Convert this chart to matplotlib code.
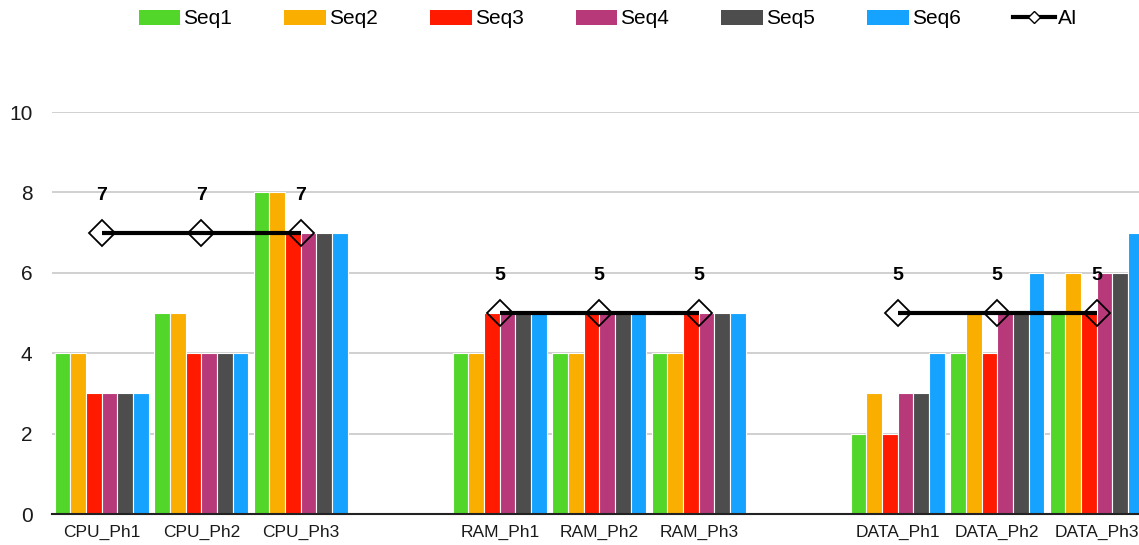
import numpy as np
import matplotlib
matplotlib.use("Agg")
import matplotlib.pyplot as plt
from matplotlib.lines import Line2D
from matplotlib.patches import Patch

# Phase categories; empty strings are spacer slots between resource groups
categories = ["CPU_Ph1", "CPU_Ph2", "CPU_Ph3", "",
              "RAM_Ph1", "RAM_Ph2", "RAM_Ph3", "",
              "DATA_Ph1", "DATA_Ph2", "DATA_Ph3"]

seq1 = [4, 5, 8, None, 4, 4, 4, None, 2, 4, 5]
seq2 = [4, 5, 8, None, 4, 4, 4, None, 3, 5, 6]
seq3 = [3, 4, 7, None, 5, 5, 5, None, 2, 4, 5]
seq4 = [3, 4, 7, None, 5, 5, 5, None, 3, 5, 6]
seq5 = [3, 4, 7, None, 5, 5, 5, None, 3, 5, 6]
seq6 = [3, 4, 7, None, 5, 5, 5, None, 4, 6, 7]
ai = [7, 7, 7, None, 5, 5, 5, None, 5, 5, 5]

series_names = ["Seq1", "Seq2", "Seq3", "Seq4", "Seq5", "Seq6"]
series_values = [seq1, seq2, seq3, seq4, seq5, seq6]
colors = ["#52D62A", "#FAAF00", "#FF1A00", "#B8397A", "#4D4D4D", "#16A3FF"]

plt.rcParams["font.family"] = ["Liberation Sans", "DejaVu Sans"]

fig = plt.figure(figsize=(11.39, 5.45), dpi=100)
ax = fig.add_axes([52 / 1139, 31 / 545, 1094.5 / 1139, 402 / 545])

x = np.arange(len(categories))
group_w = 0.945
bar_w = group_w / len(series_values)

def to_arr(v):
    return np.array([np.nan if e is None else e for e in v], dtype=float)

for i, (name, vals, col) in enumerate(zip(series_names, series_values, colors)):
    offs = -group_w / 2 + bar_w * (i + 0.5)
    ax.bar(x + offs, to_arr(vals), width=bar_w, color=col,
           edgecolor="white", linewidth=0.8, zorder=2)

ai_arr = to_arr(ai)
ax.plot(x, ai_arr, linestyle="none", marker="D", markersize=13.5,
        markerfacecolor="none", markeredgecolor="black",
        markeredgewidth=1.3, zorder=3)
ax.plot(x, ai_arr, color="black", linewidth=3, zorder=4,
        solid_capstyle="butt")

for xi, v in zip(x, ai_arr):
    if not np.isnan(v):
        ax.annotate(f"{int(v)}", (xi, v), xytext=(0, 27),
                    textcoords="offset points", ha="center", va="center",
                    fontsize=14, fontweight="bold", color="black", zorder=5)

ax.set_xlim(-0.5, len(categories) - 0.5)
ax.set_ylim(0, 10)
ax.set_yticks([0, 2, 4, 6, 8, 10])
ax.set_xticks(x)
ax.set_xticklabels(categories)
ax.tick_params(axis="y", length=0, pad=14, labelsize=15, labelcolor="#1a1a1a")
ax.tick_params(axis="x", length=0, pad=8, labelsize=12.5, labelcolor="#1a1a1a")
ax.grid(axis="y", color="#C8C8C8", linewidth=1.2, zorder=0)
ax.set_axisbelow(True)
for side in ["top", "right", "left"]:
    ax.spines[side].set_visible(False)
ax.spines["bottom"].set_color("#222222")
ax.spines["bottom"].set_linewidth(1.5)
ax.spines["bottom"].set_zorder(6)

handles = [Patch(facecolor=c, edgecolor="none", label=n)
           for n, c in zip(series_names, colors)]
handles.append(Line2D([0], [0], color="black", linewidth=3, marker="D",
                      markersize=6, markerfacecolor="white",
                      markeredgecolor="black", label="AI"))
fig.legend(handles=handles, loc="center", bbox_to_anchor=(608 / 1139, 1 - 19 / 545),
           ncol=7, frameon=False, fontsize=15, handlelength=2.0,
           handleheight=0.7, handletextpad=0.15, columnspacing=2.5,
           borderaxespad=0)

fig.savefig("out.png", dpi=100)
